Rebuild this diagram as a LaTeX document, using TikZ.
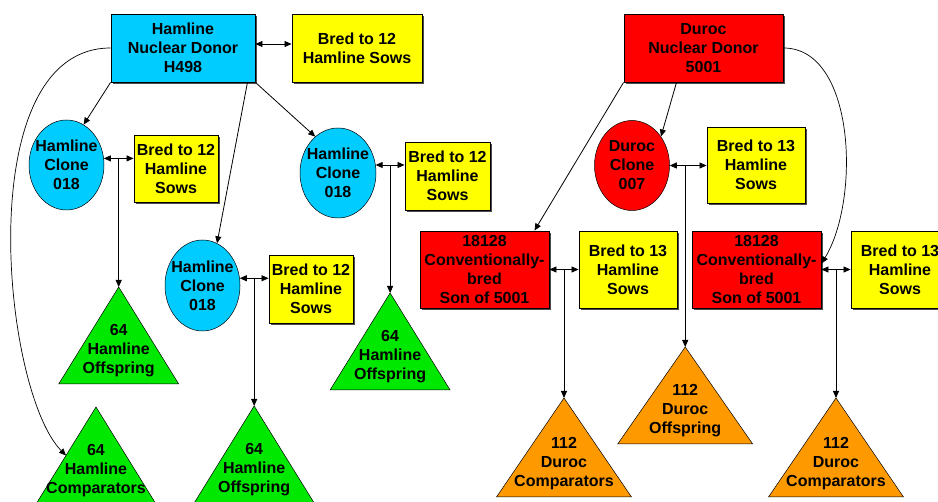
\documentclass[tikz,border=0pt]{standalone}
\usepackage{fontspec}
\setmainfont{Liberation Sans}
\usetikzlibrary{shapes.geometric,arrows.meta,shadows,calc}
\definecolor{cyanbox}{RGB}{0,204,255}
\definecolor{yellowbox}{RGB}{255,255,0}
\definecolor{redbox}{RGB}{255,0,0}
\definecolor{greentri}{RGB}{0,232,0}
\definecolor{orangetri}{RGB}{255,153,0}
\tikzset{
  txt/.style={font=\bfseries\fontsize{16}{19}\selectfont, align=center, inner sep=0pt},
  box/.style={txt, draw=black, line width=0.9pt,
    drop shadow={shadow xshift=2pt, shadow yshift=-2pt, fill=black!70, opacity=1}},
  oval/.style={txt, ellipse, draw=black, line width=0.5pt, inner sep=-20pt,
    minimum width=75pt, minimum height=90pt},
  conn/.style={draw=black, line width=0.8pt},
  arr/.style={conn, -{Triangle[length=7pt,width=6pt]}},
  dbl/.style={conn, {Triangle[length=7pt,width=6pt]}-{Triangle[length=7pt,width=6pt]}},
  curv/.style={draw=black, line width=0.7pt, -{Triangle[length=7pt,width=6pt]}},
  tri/.style={draw=black, line width=0.5pt}
}
\newcommand\mytri[6]{%
  \filldraw[tri, fill=#4] (#1) -- ++(#2,#3) -- ++({-2*#2},0) -- cycle;
  \node[txt] (#5) at ($(#1)+(0,{0.66*#3})$) {#6};
}
\begin{document}
\begin{tikzpicture}[x=1pt,y=-1pt]
\useasboundingbox[fill=white] (0,0) rectangle (938,502);

% Hamline side
\node[box, fill=cyanbox, minimum width=144pt, minimum height=68pt] (hdonor) at (183,48) {Hamline\\Nuclear Donor\\H498};
\node[box, fill=yellowbox, minimum width=130pt, minimum height=68pt] (yb1) at (357,48) {Bred to 12\\Hamline Sows};
\node[oval, fill=cyanbox] (clone1) at (66.5,165) {Hamline\\Clone\\018};
\node[box, fill=yellowbox, minimum width=84pt, minimum height=67pt] (yb2) at (176,169) {Bred to 12\\Hamline\\Sows};
\node[oval, fill=cyanbox, minimum width=76pt] (clone2) at (338,173) {Hamline\\Clone\\018};
\node[box, fill=yellowbox, minimum width=85pt, minimum height=68pt] (yb3) at (447.5,176) {Bred to 12\\Hamline\\Sows};
\node[oval, fill=cyanbox, minimum height=91pt] (clone3) at (202.5,285.5) {Hamline\\Clone\\018};
\node[box, fill=yellowbox, minimum width=84pt, minimum height=68pt] (yb4) at (311,289) {Bred to 12\\Hamline\\Sows};

% Duroc side
\node[box, fill=redbox, minimum width=159pt, minimum height=68pt] (ddonor) at (703.5,48) {Duroc\\Nuclear Donor\\5001};
\node[oval, fill=redbox] (dclone) at (632,165.5) {Duroc\\Clone\\007};
\node[box, fill=yellowbox, minimum width=98pt, minimum height=76pt] (yb5) at (756,165) {Bred to 13\\Hamline\\Sows};
\node[box, fill=redbox, minimum width=129pt, minimum height=77pt] (r1) at (484.5,269.5) {18128\\Conventionally-\\bred\\Son of 5001};
\node[box, fill=yellowbox, minimum width=98pt, minimum height=77pt] (yb6) at (628,269.5) {Bred to 13\\Hamline\\Sows};
\node[box, fill=redbox, minimum width=129pt, minimum height=77pt] (r2) at (756.5,269.5) {18128\\Conventionally-\\bred\\Son of 5001};
\node[box, fill=yellowbox, minimum width=98pt, minimum height=77pt] (yb7) at (900,269.5) {Bred to 13\\Hamline\\Sows};

% junctions
\coordinate (j2) at ($(clone1.10)!0.5!(clone1.10 -| yb2.west)$);
\coordinate (j3) at ($(clone2.12)!0.5!(clone2.12 -| yb3.west)$);
\coordinate (j4) at ($(clone3.11)!0.5!(clone3.11 -| yb4.west)$);
\coordinate (j5) at ($(dclone.east)!0.42!(yb5.west)$);
\coordinate (j6) at ($(r1.east)!0.5!(yb6.west)$);
\coordinate (j7) at ($(r2.east)!0.5!(yb7.west)$);

% triangle apexes
\coordinate (a1) at (j2 |- 0,287);
\coordinate (a2) at (j3 |- 0,293);
\coordinate (a3) at (j4 |- 0,406);
\coordinate (aL) at (96,407);
\coordinate (a5) at (j5 |- 0,347);
\coordinate (a6) at (j6 |- 0,398);
\coordinate (a7) at (j7 |- 0,398);

\mytri{a1}{60}{97}{greentri}{t1}{64\\Hamline\\Offspring}
\mytri{a2}{60}{97}{greentri}{t2}{64\\Hamline\\Offspring}
\mytri{a3}{60}{97}{greentri}{t3}{64\\Hamline\\Offspring}
\mytri{aL}{60}{97}{greentri}{tL}{64\\Hamline\\Comparators}
\mytri{a5}{67.5}{97}{orangetri}{t5}{112\\Duroc\\Offspring}
\mytri{a6}{67.5}{99}{orangetri}{t6}{112\\Duroc\\Comparators}
\mytri{a7}{67.5}{99}{orangetri}{t7}{112\\Duroc\\Comparators}

\coordinate (cmpL) at ($(aL)!0.5!($(aL)+(-60,97)$)$);

% double arrows
\draw[dbl] ([yshift=4pt]hdonor.east) -- ([yshift=4pt]yb1.west);
\draw[dbl] (clone1.10) -- (clone1.10 -| yb2.west);
\draw[dbl] (clone2.12) -- (clone2.12 -| yb3.west);
\draw[dbl] (clone3.11) -- (clone3.11 -| yb4.west);
\draw[dbl] (dclone.east) -- (dclone.east -| yb5.west);
\draw[dbl] (r1.east) -- (yb6.west);
\draw[dbl] (r2.east) -- (yb7.west);

% vertical drops
\draw[arr] (j2) -- (a1);
\draw[arr] (j3) -- (a2);
\draw[arr] (j4) -- (a3);
\draw[arr] (j5) -- (a5);
\draw[arr] (j6) -- (a6);
\draw[arr] (j7) -- (a7);

% donor arrows
\draw[arr] (hdonor.south west) -- (clone1.67);
\draw[arr] ([xshift=-8pt]hdonor.south east) -- (clone3.71);
\draw[arr] (hdonor.south east) -- (clone2.122);
\draw[arr] (ddonor.south west) -- ([xshift=50pt]r1.north);
\draw[arr] ([xshift=-27pt]ddonor.south) -- (dclone.45);

% curves
\draw[curv] (hdonor.west) .. controls +(-141,0) and +(-64,-65) .. (cmpL);
\draw[curv] (ddonor.east) .. controls +(72,0) and +(39,-63.5) .. ([yshift=6pt]r2.east);
\end{tikzpicture}
\end{document}
